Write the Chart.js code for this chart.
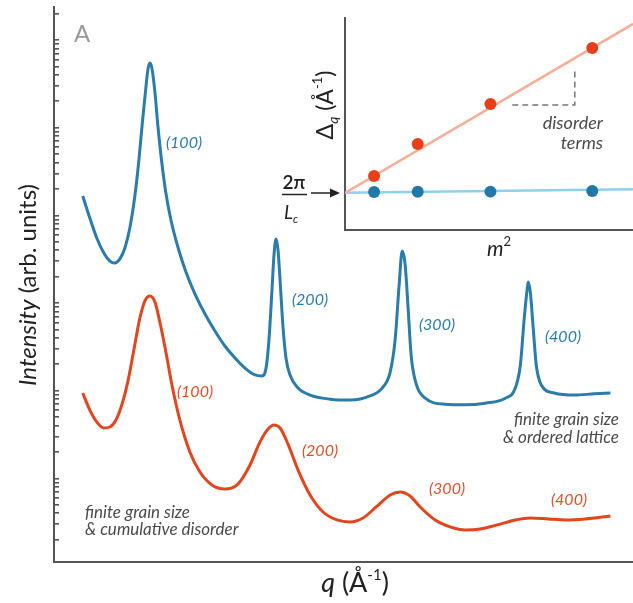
<!DOCTYPE html>
<html>
<head>
<meta charset="utf-8">
<script src="https://cdn.jsdelivr.net/npm/chart.js@4.4.1/dist/chart.umd.min.js"></script>
<style>
  html, body { margin: 0; padding: 0; background: #fff; }
  #wrap { position: relative; width: 633px; height: 603px; }
  #main { position: absolute; left: 0; top: 0; }
  #inset { position: absolute; left: 270px; top: 0; }
</style>
</head>
<body>
<div id="wrap">
  <canvas id="main" width="633" height="603"></canvas>
  <canvas id="inset" width="363" height="265"></canvas>
</div>
<script>
// --- datos ---
// curva azul: tamaño de grano finito, red ordenada
const qBlue = [0.468, 0.524, 0.579, 0.635, 0.683, 0.722, 0.762, 0.802, 0.841, 0.881,
  0.913, 0.944, 0.968, 0.984, 1.0, 1.016, 1.040, 1.063, 1.095, 1.127,
  1.167, 1.222, 1.286, 1.357, 1.437, 1.516, 1.595, 1.675, 1.754, 1.833,
  1.889, 1.921, 1.944, 1.968, 1.984, 2.0, 2.016, 2.032, 2.056, 2.079,
  2.111, 2.175, 2.270, 2.429, 2.587, 2.746, 2.841, 2.905, 2.944, 2.976,
  3.0, 3.024, 3.048, 3.071, 3.103, 3.183, 3.341, 3.5, 3.659, 3.817,
  3.897, 3.937, 3.968, 3.992, 4.0, 4.016, 4.040, 4.063, 4.103, 4.206,
  4.365, 4.524, 4.651];
const intensityBlue = [16600, 9310, 5510, 3720, 3010, 2860, 3180, 4240, 7160, 16600,
  42700, 129000, 283000, 455000, 546000, 479000, 255000, 107000, 39500, 18000,
  8850, 4350, 2260, 1270, 748, 480, 323, 236, 181, 151,
  147, 181, 378, 1410, 3530, 5370, 4020, 1830, 519, 236,
  151, 107, 89, 80, 78, 87, 107, 163, 378, 1600,
  3920, 2710, 832, 255, 132, 82, 70, 69, 72, 82,
  107, 196, 675, 1480, 1740, 1330, 492, 196, 116, 94,
  89, 92, 94];

// curva naranja: tamaño de grano finito, desorden acumulativo
const qOrange = [0.468, 0.524, 0.579, 0.635, 0.683, 0.730, 0.778, 0.825, 0.873, 0.921,
  0.960, 1.0, 1.040, 1.079, 1.127, 1.175, 1.238, 1.317, 1.397, 1.492,
  1.595, 1.698, 1.794, 1.873, 1.937, 1.984, 2.032, 2.095, 2.175, 2.270,
  2.373, 2.484, 2.587, 2.690, 2.794, 2.905, 2.984, 3.063, 3.143, 3.262,
  3.381, 3.5, 3.619, 3.754, 3.897, 4.016, 4.159, 4.294, 4.452, 4.651];
const intensityOrange = [94, 60, 44, 37.5, 38.5, 46, 69, 126, 291, 675,
  1050, 1200, 1030, 607, 276, 116, 46, 20, 11.8, 8.4,
  7.55, 8.6, 14.2, 26, 36.5, 40.6, 37.5, 24.6, 12.4, 6.45,
  4.13, 3.35, 3.18, 3.53, 4.71, 6.45, 6.98, 6.29, 4.71, 3.35,
  2.79, 2.57, 2.64, 2.94, 3.35, 3.53, 3.44, 3.35, 3.44, 3.72];

const peakLabels = ['(100)', '(200)', '(300)', '(400)'];

// marcas del eje logaritmico
const yTickMantissas = [1, 2, 3, 4, 5, 6, 7, 8, 9];
const yTickDecades = [0, 1, 2, 3, 4, 5, 6];

// recuadro: Delta_q contra m^2
const mSquared = [1, 4, 9, 16];
const deltaOrdered = [1.79, 1.80, 1.81, 1.84];
const deltaDisorder = [2.55, 4.06, 5.94, 8.58];
const fitM = [-1, 18.8];
const fitOrdered = [1.76, 1.92];
const fitDisorder = [1.75, 9.72];
const bracketM = [10.5, 14.8, 14.8];
const bracketDelta = [5.9, 5.9, 7.64];

// --- colores y fuentes ---
const BLUE = '#2a7cab';
const ORANGE = '#e2461e';
const AXIS = '#555';
const GREY_TEXT = '#4a4a4a';
const FONT = 'Lato, "Open Sans", sans-serif';

const Y_MIN = 1.11, Y_MAX = 2.38e6;
const yTicks = [];
yTickDecades.forEach(d => yTickMantissas.forEach(m => {
  const v = m * Math.pow(10, d);
  if (v >= Y_MIN && v <= Y_MAX) yTicks.push(v);
}));

const toPoints = (xs, ys) => xs.map((x, i) => ({ x: x, y: ys[i] }));

// texto con partes de distinto estilo (cursiva, sub/superindice)
function richText(ctx, x, y, parts, align) {
  let w = 0;
  parts.forEach(p => { ctx.font = p.font; w += ctx.measureText(p.text).width; });
  let cx = align === 'center' ? x - w / 2 : (align === 'right' ? x - w : x);
  parts.forEach(p => {
    ctx.font = p.font;
    ctx.fillStyle = p.color;
    ctx.fillText(p.text, cx, y + (p.dy || 0));
    cx += ctx.measureText(p.text).width;
  });
}

function simpleText(ctx, text, x, y, font, color, align) {
  ctx.font = font;
  ctx.fillStyle = color;
  ctx.textAlign = align || 'center';
  ctx.fillText(text, x, y);
  ctx.textAlign = 'left';
}

const mainTexts = {
  id: 'mainTexts',
  afterDraw(chart) {
    const ctx = chart.ctx;
    ctx.save();
    ctx.textAlign = 'left';
    ctx.textBaseline = 'alphabetic';

    // titulo eje y
    ctx.save();
    ctx.translate(36, 285);
    ctx.rotate(-Math.PI / 2);
    richText(ctx, 0, 0, [
      { text: 'Intensity', font: 'italic 24px ' + FONT, color: '#222' },
      { text: ' (arb. units)', font: '24px ' + FONT, color: '#222' }
    ], 'center');
    ctx.restore();

    // titulo eje x
    richText(ctx, 355, 592, [
      { text: 'q', font: 'italic 27px ' + FONT, color: '#222' },
      { text: ' (Å', font: '27px ' + FONT, color: '#222' },
      { text: '-1', font: '15px ' + FONT, color: '#222', dy: -12 },
      { text: ')', font: '27px ' + FONT, color: '#222' }
    ], 'center');

    // letra del panel
    simpleText(ctx, 'A', 82, 42, '24px ' + FONT, '#9a9a9a', 'center');

    // etiquetas de picos
    ctx.textBaseline = 'middle';
    const blueLabelPos = [[184, 143], [310, 300], [437, 325], [563, 337]];
    const orangeLabelPos = [[195, 392], [320, 451], [447, 489], [569, 500]];
    peakLabels.forEach((t, i) => {
      simpleText(ctx, t, blueLabelPos[i][0], blueLabelPos[i][1], 'italic 16px ' + FONT, BLUE, 'center');
      simpleText(ctx, t, orangeLabelPos[i][0], orangeLabelPos[i][1], 'italic 16px ' + FONT, '#e0502a', 'center');
    });

    // notas
    simpleText(ctx, 'finite grain size', 619, 420, 'italic 17px ' + FONT, GREY_TEXT, 'right');
    simpleText(ctx, '& ordered lattice', 619, 438, 'italic 17px ' + FONT, GREY_TEXT, 'right');
    simpleText(ctx, 'finite grain size', 85, 513, 'italic 17px ' + FONT, GREY_TEXT, 'left');
    simpleText(ctx, '& cumulative disorder', 85, 530, 'italic 17px ' + FONT, GREY_TEXT, 'left');

    // textos del recuadro
    simpleText(ctx, 'disorder', 603, 123, 'italic 18px ' + FONT, GREY_TEXT, 'right');
    simpleText(ctx, 'terms', 603, 143, 'italic 18px ' + FONT, GREY_TEXT, 'right');

    ctx.textBaseline = 'alphabetic';
    richText(ctx, 487, 256, [
      { text: 'm', font: 'italic 21px ' + FONT, color: '#222' },
      { text: '2', font: '13px ' + FONT, color: '#222', dy: -10 }
    ], 'left');

    // Delta_q (Å^-1) rotado
    ctx.save();
    ctx.translate(333, 105);
    ctx.rotate(-Math.PI / 2);
    richText(ctx, 0, 0, [
      { text: 'Δ', font: '23px ' + FONT, color: '#222' },
      { text: 'q', font: 'italic 14px ' + FONT, color: '#222', dy: 5 },
      { text: ' (Å', font: '23px ' + FONT, color: '#222' },
      { text: '-1', font: '13px ' + FONT, color: '#222', dy: -11 },
      { text: ')', font: '23px ' + FONT, color: '#222' }
    ], 'center');
    ctx.restore();

    // 2pi / Lc con flecha
    simpleText(ctx, '2π', 294, 189, '600 19px ' + FONT, '#222', 'center');
    ctx.strokeStyle = '#222';
    ctx.lineWidth = 1.5;
    ctx.beginPath();
    ctx.moveTo(282, 194.5);
    ctx.lineTo(307, 194.5);
    ctx.stroke();
    richText(ctx, 291, 219, [
      { text: 'L', font: 'italic 19px ' + FONT, color: '#222' },
      { text: 'c', font: 'italic 11px ' + FONT, color: '#222', dy: 4 }
    ], 'center');
    ctx.beginPath();
    ctx.moveTo(311, 193);
    ctx.lineTo(332, 193);
    ctx.stroke();
    ctx.fillStyle = '#222';
    ctx.beginPath();
    ctx.moveTo(340, 193);
    ctx.lineTo(330, 188.5);
    ctx.lineTo(330, 197.5);
    ctx.closePath();
    ctx.fill();

    ctx.restore();
  }
};

new Chart(document.getElementById('main'), {
  type: 'line',
  data: {
    datasets: [{
      label: 'ordered lattice',
      data: toPoints(qBlue, intensityBlue),
      borderColor: BLUE,
      borderWidth: 3,
      pointRadius: 0,
      cubicInterpolationMode: 'monotone'
    }, {
      label: 'cumulative disorder',
      data: toPoints(qOrange, intensityOrange),
      borderColor: ORANGE,
      borderWidth: 3,
      pointRadius: 0,
      cubicInterpolationMode: 'monotone'
    }]
  },
  options: {
    responsive: false,
    animation: false,
    layout: { autoPadding: false, padding: { top: 7, right: 0, left: 0, bottom: 0 } },
    plugins: { legend: { display: false }, tooltip: { enabled: false } },
    scales: {
      x: {
        type: 'linear',
        min: 0.24,
        max: 4.83,
        grid: { display: false },
        border: { color: AXIS, width: 2 },
        ticks: { display: false },
        afterFit: s => { s.height = 41; }
      },
      y: {
        type: 'logarithmic',
        min: Y_MIN,
        max: Y_MAX,
        grid: { drawOnChartArea: false, drawTicks: true, tickLength: -5, color: AXIS, lineWidth: 1.6 },
        border: { color: AXIS, width: 2 },
        ticks: { display: false },
        afterBuildTicks: s => { s.ticks = yTicks.map(v => ({ value: v })); },
        afterFit: s => { s.width = 54; }
      }
    }
  },
  plugins: [mainTexts]
});

// --- recuadro ---
new Chart(document.getElementById('inset'), {
  type: 'line',
  data: {
    datasets: [{
      label: 'disorder points',
      data: toPoints(mSquared, deltaDisorder),
      showLine: false,
      pointRadius: 6,
      pointBackgroundColor: '#e5401a',
      pointBorderWidth: 0
    }, {
      label: 'ordered points',
      data: toPoints(mSquared, deltaOrdered),
      showLine: false,
      pointRadius: 6,
      pointBackgroundColor: '#2079a8',
      pointBorderWidth: 0
    }, {
      label: 'disorder fit',
      data: toPoints(fitM, fitDisorder),
      borderColor: '#f5ae98',
      borderWidth: 2.5,
      pointRadius: 0
    }, {
      label: 'ordered fit',
      data: toPoints(fitM, fitOrdered),
      borderColor: '#8fd0ec',
      borderWidth: 2.5,
      pointRadius: 0
    }, {
      label: 'bracket',
      data: toPoints(bracketM, bracketDelta),
      borderColor: '#777',
      borderWidth: 1.5,
      borderDash: [6, 4],
      pointRadius: 0
    }]
  },
  options: {
    responsive: false,
    animation: false,
    layout: { autoPadding: false, padding: { top: 18, right: 0, left: 0, bottom: 0 } },
    plugins: { legend: { display: false }, tooltip: { enabled: false } },
    scales: {
      x: {
        type: 'linear',
        min: -1,
        max: 18.8,
        grid: { display: false },
        border: { color: AXIS, width: 2 },
        ticks: { display: false },
        afterFit: s => { s.height = 35; }
      },
      y: {
        type: 'linear',
        min: 0,
        max: 10,
        grid: { display: false },
        border: { color: AXIS, width: 2 },
        ticks: { display: false },
        afterFit: s => { s.width = 75; }
      }
    }
  }
});
</script>
</body>
</html>
